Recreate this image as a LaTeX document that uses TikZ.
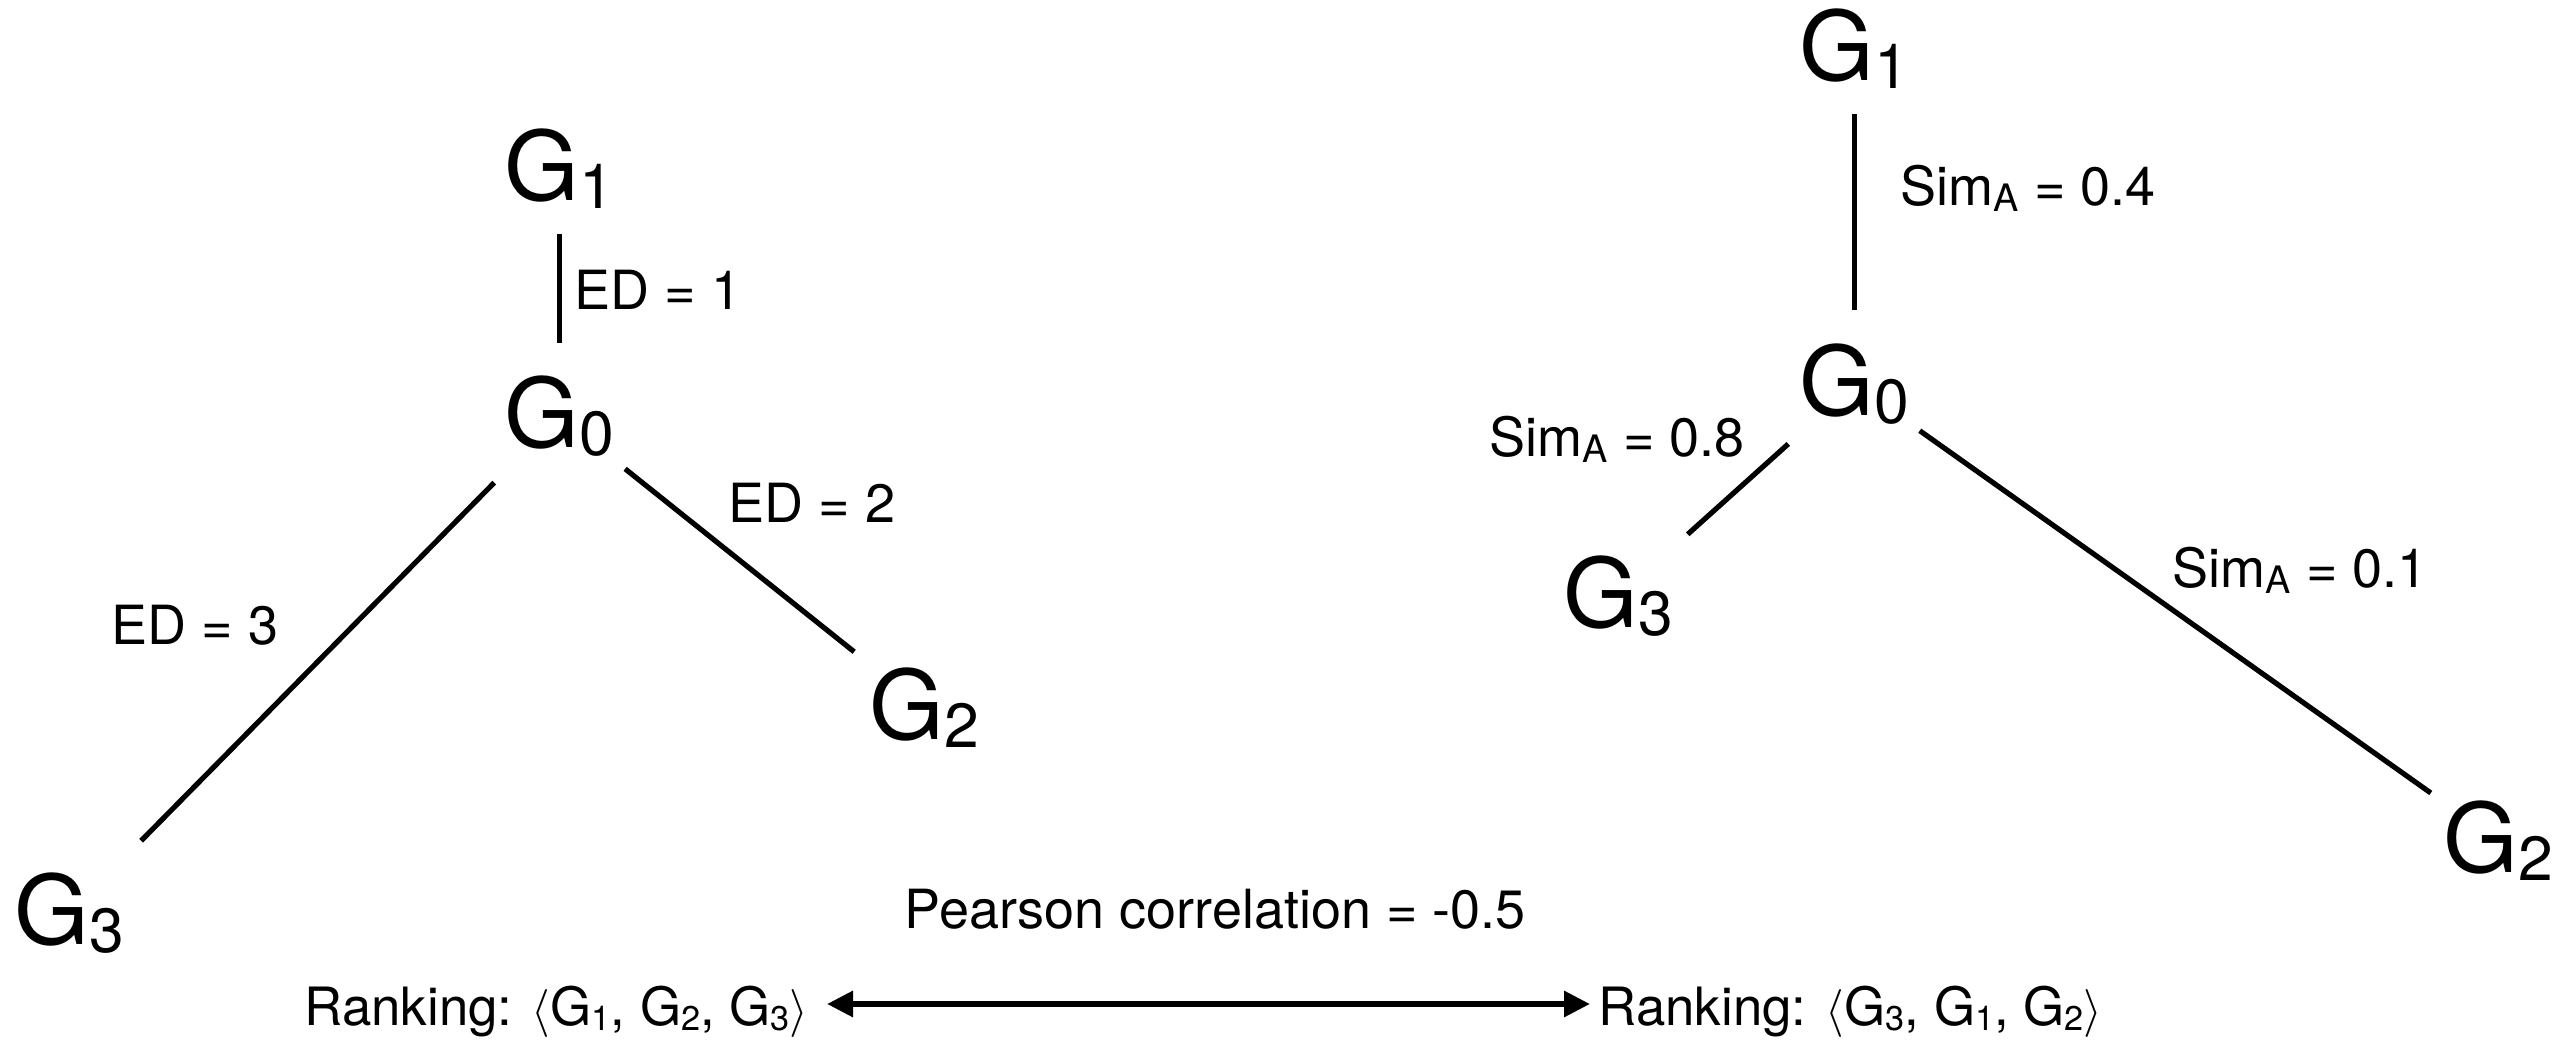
\documentclass[tikz,border=0pt]{standalone}
\usepackage{fontspec}
\setmainfont{TeX Gyre Heros}
\usetikzlibrary{arrows.meta,calc}
\newcommand\gsub[1]{\raisebox{-0.08em}{\scalebox{0.65}{#1}}}
\newcommand\asub[1]{\raisebox{-0.1em}{\scalebox{0.7}{#1}}}
\begin{document}
\begin{tikzpicture}[x=0.25pt,y=-0.25pt,
  gnode/.style={inner sep=0pt, anchor=base west, font=\fontsize{24}{28}\selectfont},
  lbl/.style={inner sep=0pt, anchor=base west, font=\fontsize{13.5}{16}\selectfont},
  ranklbl/.style={lbl, font=\fontsize{13.2}{16}\selectfont},
  edge/.style={line width=1.3pt},
  rankarrow/.style={line width=1.5pt, {Triangle[length=6.5pt,width=6.25pt]}-{Triangle[length=6.5pt,width=6.25pt]}}]
\useasboundingbox (0,0) rectangle (2569,1045);
% left tree
\node[gnode] (lG1) at (504,201) {G\gsub{1}};
\node[gnode] (lG0) at (504,448) {G\gsub{0}};
\node[gnode] (lG3) at (14,945) {G\gsub{3}};
\node[gnode] (lG2) at (869,740) {G\gsub{2}};
\draw[edge, shorten <=16.25pt, shorten >=18.25pt] (lG1.center) -- (lG0.center);
\draw[edge, shorten <=23.25pt, shorten >=25.5pt] (lG0.center) -- (lG3.center);
\draw[edge, shorten <=21pt, shorten >=22.5pt] (lG0.center) -- (lG2.center);
\node[lbl] (ed1) at (574,310) {ED = 1};
\node[lbl] (ed2) at (728,523) {ED = 2};
\node[lbl] (ed3) at (111,645) {ED = 3};
% right tree
\node[gnode] (rG1) at (1799,81) {G\gsub{1}};
\node[gnode] (rG0) at (1799,416) {G\gsub{0}};
\node[gnode] (rG3) at (1563,628) {G\gsub{3}};
\node[gnode] (rG2) at (2443,873) {G\gsub{2}};
\draw[edge, shorten <=16.25pt, shorten >=18.5pt] (rG1.center) -- (rG0.center);
\draw[edge, shorten <=22.25pt, shorten >=23.25pt] (rG0.center) -- (rG3.center);
\draw[edge, shorten <=20pt, shorten >=20.75pt] (rG0.center) -- (rG2.center);
\node[lbl] (s04) at (1900,206) {Sim\asub{A} = 0.4};
\node[lbl] (s08) at (1489,457) {Sim\asub{A} = 0.8};
\node[lbl] (s01) at (2172,588) {Sim\asub{A} = 0.1};
% bottom
\node[lbl] (pear) at (904,929) {Pearson correlation = -0.5};
\node[ranklbl] (rL) at (304,1026) {Ranking: $\langle$G\gsub{1}, G\gsub{2}, G\gsub{3}$\rangle$};
\node[ranklbl] (rR) at (1598,1026) {Ranking: $\langle$G\gsub{3}, G\gsub{1}, G\gsub{2}$\rangle$};
\coordinate (aL) at (827,1004);
\coordinate (aR) at (1590,1004);
\draw[rankarrow] (aL) -- (aR);
\end{tikzpicture}
\end{document}
